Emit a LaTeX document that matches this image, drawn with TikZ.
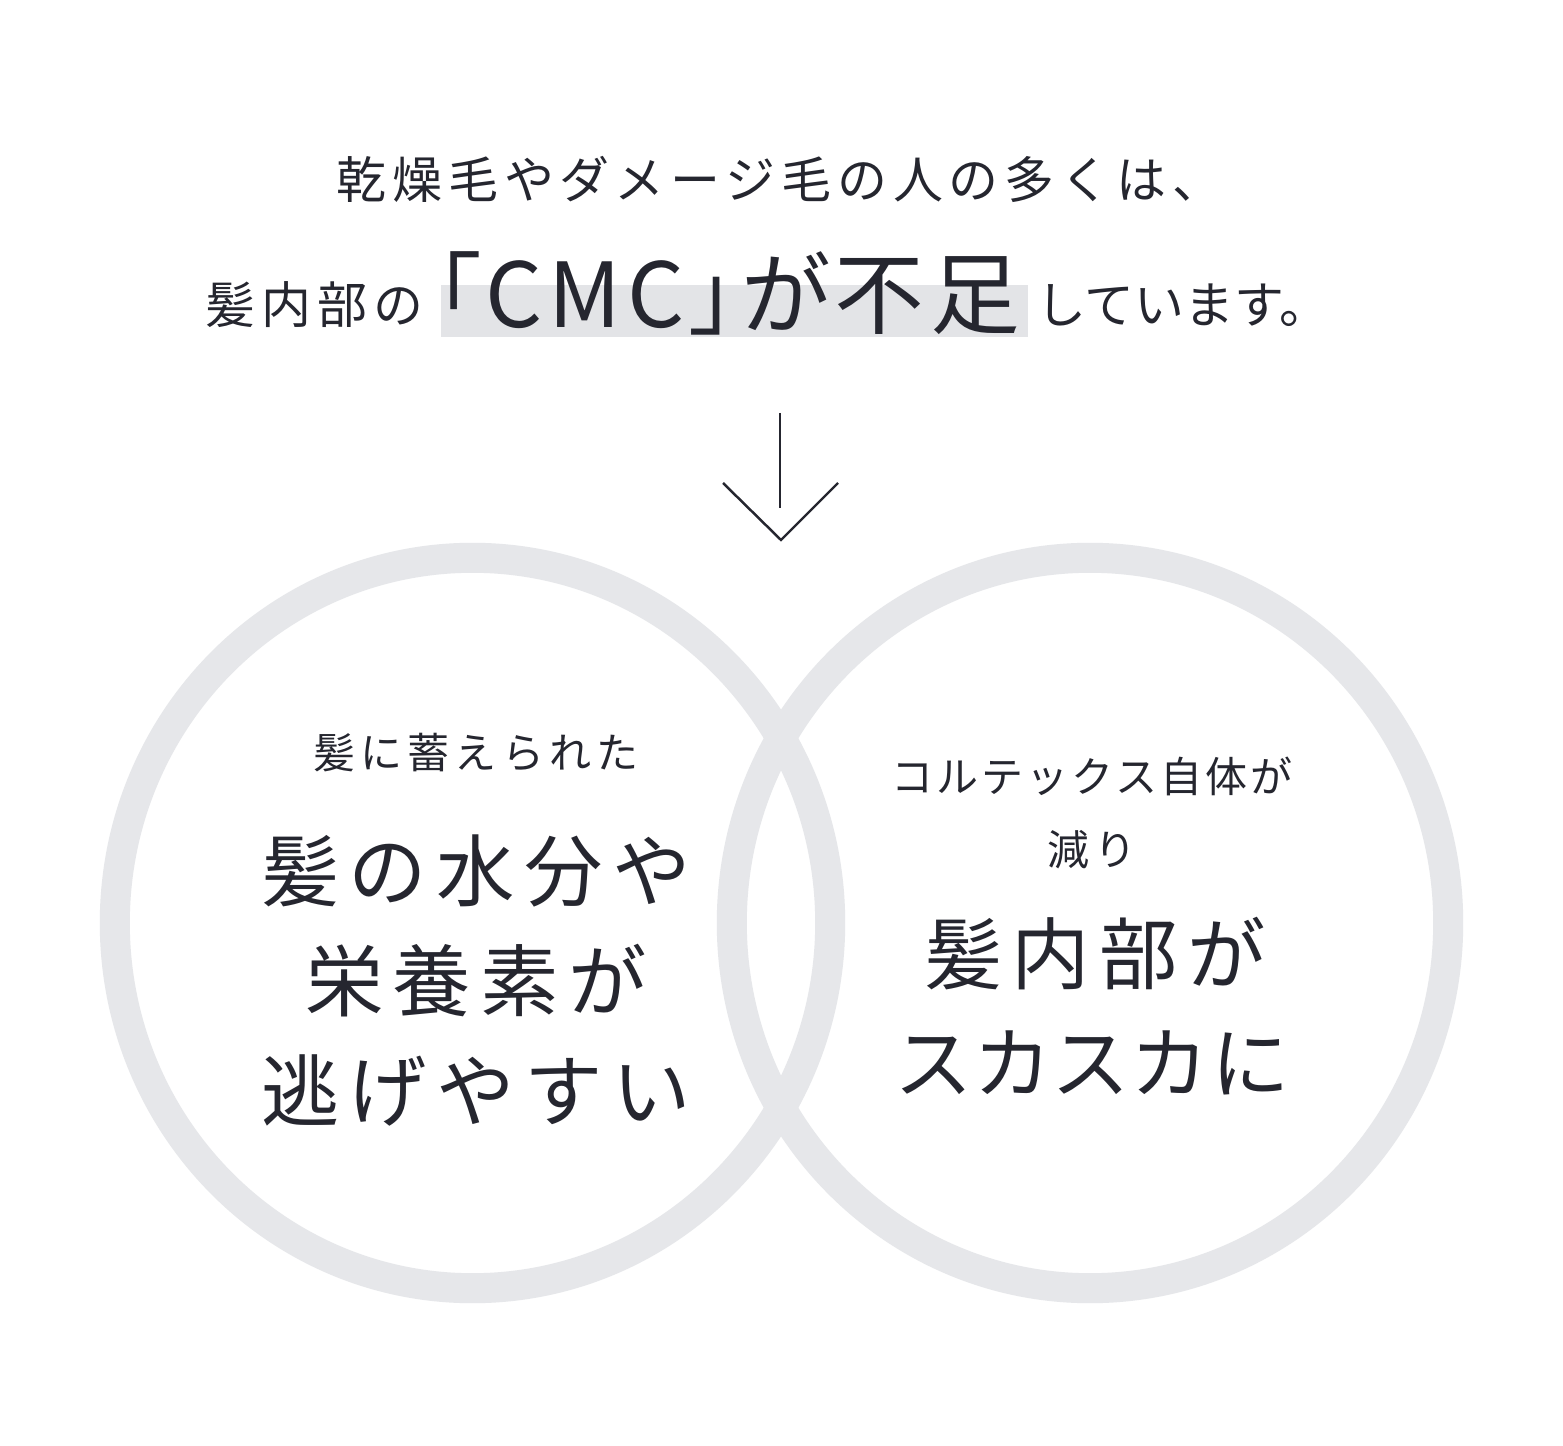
\documentclass[tikz,border=0pt]{standalone}
\usepackage{fontspec}
\newfontfamily\jpfont[LetterSpace=12]{Noto Sans CJK JP}
\newfontfamily\jpnarrow[LetterSpace=7]{Noto Sans CJK JP}
\newfontfamily\jpprop[LetterSpace=9,RawFeature=+palt]{Noto Sans CJK JP}
\newfontfamily\jpplain{Noto Sans CJK JP}
\newfontfamily\jpbig[LetterSpace=6.5,RawFeature=+palt]{Noto Sans CJK JP}
\definecolor{ringgray}{HTML}{E6E7EA}
\definecolor{markgray}{HTML}{E3E4E7}
\definecolor{inkdark}{HTML}{25262F}
\begin{document}
\begin{tikzpicture}[
    x=0.01cm, y=-0.01cm,
    line width=0.7pt,
    color=inkdark,
    % text styles (sizes in pt, 1px = 0.2845pt)
    headtext/.style={inner sep=0pt, anchor=base west, font={\jpfont\fontsize{14.2}{17}\selectfont}},
    bighead/.style={inner sep=0pt, anchor=base west, font={\jpbig\fontsize{25.5}{30}\selectfont}},
    smalltext/.style={inner sep=0pt, anchor=base, font={\jpfont\fontsize{11.95}{14}\selectfont}},
    bigtext/.style={inner sep=0pt, anchor=base, font={\jpfont\fontsize{22.3}{27}\selectfont}},
    ring/.style={draw=ringgray, line width=8.54pt}
]
    \useasboundingbox[fill=white] (0,0) rectangle (1563,1446);

    % ==========================
    % Heading
    % ==========================
    \fill[markgray] (441,285) rectangle (1028,337);
    \node[headtext] (head1) at (335,199) {乾燥毛やダメージ毛の人の多くは、};
    \node[headtext] (head2a) at (204,324) {髪内部の};
    \node[bighead]  (head2b) at (434,328) {「CMC」が不足};
    \node[headtext, font={\jpplain\fontsize{14.2}{17}\selectfont}] (head2c) at (1035,324) {しています。};

    % ==========================
    % Arrow
    % ==========================
    \coordinate (arrtop) at (780,413);
    \coordinate (arrend) at (780,508);
    \coordinate (chevL) at (723,483);
    \coordinate (chevtip) at (781,540);
    \coordinate (chevR) at (838,483);
    \draw (arrtop) -- (arrend);
    \draw (chevL) -- (chevtip) -- (chevR);

    % ==========================
    % Two rings
    % ==========================
    \draw[ring] (472.5,923) ellipse [x radius=3.575cm, y radius=3.65cm];
    \draw[ring] (1090,923) ellipse [x radius=3.58cm, y radius=3.65cm];

    % Left ring text
    \node[smalltext] (left0) at (476,768) {髪に蓄えられた};
    \foreach \y/\t [count=\i] in {900/髪の水分や, 1010/栄養素が, 1120/逃げやすい}
        \node[bigtext] (left\i) at (476,\y) {\t};

    % Right ring text
    \node[smalltext, font={\jpnarrow\fontsize{11.95}{14}\selectfont}] (right0) at (1092,792) {コルテックス自体が};
    \node[smalltext] (rightA) at (1092,865) {減り};
    \node[bigtext] (right1) at (1095,983) {髪内部が};
    \node[bigtext, font={\jpprop\fontsize{22.3}{27}\selectfont}] (right2) at (1093,1092) {スカスカに};

\end{tikzpicture}
\end{document}
